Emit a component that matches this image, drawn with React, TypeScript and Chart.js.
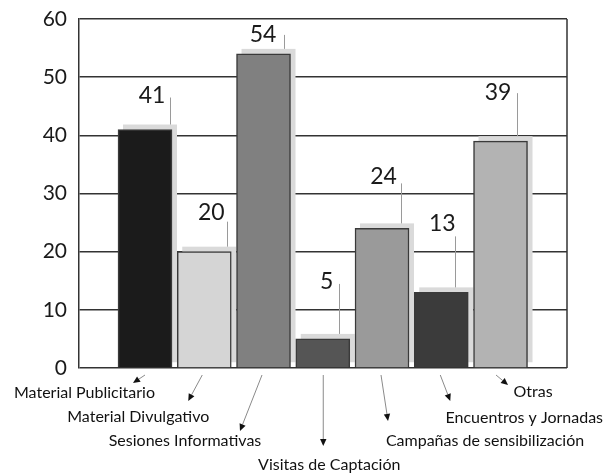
import React, { useEffect, useRef } from "react";
import { Chart, registerables } from "chart.js";

Chart.register(...registerables);

const categories = [
  "Material Publicitario",
  "Material Divulgativo",
  "Sesiones Informativas",
  "Visitas de Captación",
  "Campañas de sensibilización",
  "Encuentros y Jornadas",
  "Otras",
];
const values = [41, 20, 54, 5, 24, 13, 39];
const yTicks = [0, 10, 20, 30, 40, 50, 60];

const barColors = ["#1b1b1b", "#d5d5d5", "#808080", "#555555", "#9a9a9a", "#3b3b3b", "#b3b3b3"];

// style/layout: value label placement (dx from bar centre, lift above bar top), leader line dx, leader top offset from label centre
const valueLabelStyle = [
  { dx: 7, lift: 34, ldx: 25, ltop: 2 },
  { dx: 7, lift: 39, ldx: 23, ltop: 9 },
  { dx: -0.5, lift: 19, ldx: 20.5, ltop: 0 },
  { dx: 4, lift: 57, ldx: 16.5, ltop: 2 },
  { dx: 1.5, lift: 52, ldx: 19, ltop: 7 },
  { dx: 1, lift: 69, ldx: 14, ltop: 13 },
  { dx: -2.5, lift: 49, ldx: 16.5, ltop: 1 },
];

// style/layout: category annotation placement relative to bar centre / plot bottom
const catLabelStyle = [
  { sx: 0, tx: -12, ty: 15, cx: -60.5, cy: 25 },
  { sx: -2, tx: -16, ty: 33, cx: -66, cy: 49 },
  { sx: -1.5, tx: -23.5, ty: 63, cx: -78.5, cy: 73 },
  { sx: 0.5, tx: 0.5, ty: 78, cx: 6.5, cy: 97 },
  { sx: -1, tx: 6, ty: 53, cx: 103, cy: 73 },
  { sx: -1, tx: 9, ty: 33, cx: 83, cy: 50 },
  { sx: -4.5, tx: 7.5, ty: 17, cx: 32.5, cy: 24 },
];

const FONT = "Lato, 'Open Sans', sans-serif";

const decorPlugin = {
  id: "decor",
  beforeDatasetsDraw(chart: any) {
    const ctx = chart.ctx;
    const meta = chart.getDatasetMeta(0);
    ctx.save();
    ctx.fillStyle = "#dadada";
    meta.data.forEach((bar: any) => {
      const w = bar.width;
      ctx.fillRect(bar.x - w / 2 + 5, bar.y - 5, w, bar.base - bar.y);
    });
    ctx.restore();
  },
  afterDatasetsDraw(chart: any) {
    const ctx = chart.ctx;
    const area = chart.chartArea;
    const meta = chart.getDatasetMeta(0);
    ctx.save();
    // right border
    ctx.strokeStyle = "#333333";
    ctx.lineWidth = 1.5;
    ctx.beginPath();
    ctx.moveTo(area.right, area.top);
    ctx.lineTo(area.right, area.bottom);
    ctx.stroke();

    meta.data.forEach((bar: any, i: number) => {
      const s = valueLabelStyle[i];
      const ly = bar.y - s.lift;
      // leader line
      ctx.strokeStyle = "#9a9a9a";
      ctx.lineWidth = 1;
      ctx.beginPath();
      ctx.moveTo(Math.round(bar.x + s.ldx) + 0.5, ly + s.ltop);
      ctx.lineTo(Math.round(bar.x + s.ldx) + 0.5, bar.y - 5);
      ctx.stroke();
      // value label
      ctx.fillStyle = "#1a1a1a";
      ctx.font = "23px " + FONT;
      ctx.textAlign = "center";
      ctx.textBaseline = "middle";
      ctx.fillText(String(values[i]), bar.x + s.dx, ly);

      // category annotations
      const c = catLabelStyle[i];
      const x0 = bar.x + c.sx;
      const y0 = area.bottom + 7;
      const x1 = bar.x + c.tx;
      const y1 = area.bottom + c.ty;
      const ang = Math.atan2(y1 - y0, x1 - x0);
      const hl = 7;
      const hw = 3.2;
      const bx = x1 - hl * Math.cos(ang);
      const by = y1 - hl * Math.sin(ang);
      ctx.strokeStyle = "#8a8a8a";
      ctx.lineWidth = 1;
      ctx.beginPath();
      ctx.moveTo(x0, y0);
      ctx.lineTo(bx, by);
      ctx.stroke();
      ctx.fillStyle = "#111111";
      ctx.beginPath();
      ctx.moveTo(x1, y1);
      ctx.lineTo(bx + hw * Math.sin(ang), by - hw * Math.cos(ang));
      ctx.lineTo(bx - hw * Math.sin(ang), by + hw * Math.cos(ang));
      ctx.closePath();
      ctx.fill();

      ctx.font = "16px " + FONT;
      ctx.fillStyle = "#111111";
      ctx.textAlign = "center";
      ctx.textBaseline = "middle";
      ctx.fillText(categories[i], bar.x + c.cx, area.bottom + c.cy);
    });
    ctx.restore();
  },
};

export default function App() {
  const ref = useRef<HTMLCanvasElement>(null);
  useEffect(() => {
    document.body.style.margin = "0";
    const canvas = ref.current!;
    const chart = new Chart(canvas, {
      type: "bar",
      data: {
        datasets: [
          {
            data: values.map((v, i) => ({ x: i, y: v })),
            backgroundColor: barColors,
            borderColor: "#3a3a3a",
            borderWidth: 1.5,
            barThickness: 54,
          },
        ],
      },
      options: {
        animation: false,
        responsive: false,
        devicePixelRatio: 1,
        layout: { padding: { top: 19, right: 44, bottom: 107, left: 0 } },
        plugins: { legend: { display: false }, tooltip: { enabled: false } },
        scales: {
          x: {
            type: "linear",
            display: false,
            offset: false,
            min: -1.114,
            max: 7.122,
          },
          y: {
            min: 0,
            max: 60,
            afterFit: (s: any) => {
              s.width = 79;
              s.paddingTop = 0;
              s.paddingBottom = 0;
            },
            afterBuildTicks: (s: any) => {
              s.ticks = yTicks.map((v) => ({ value: v }));
            },
            ticks: {
              padding: 12,
              color: "#1a1a1a",
              font: { family: FONT, size: 21 },
            },
            grid: { color: "#333333", lineWidth: 1.5, drawTicks: false },
            border: { color: "#333333", width: 1.5 },
          },
        },
      },
      plugins: [decorPlugin],
    });
    return () => chart.destroy();
  }, []);
  return (
    <div style={{ width: 611, height: 475 }}>
      <canvas ref={ref} width={611} height={475} />
    </div>
  );
}
